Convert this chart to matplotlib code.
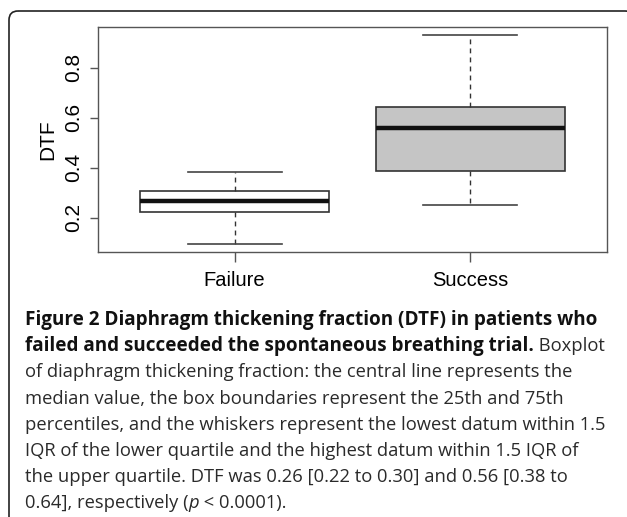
import matplotlib
matplotlib.use('Agg')
import matplotlib.pyplot as plt
from matplotlib.patches import FancyBboxPatch

# Werte
groups = ['Failure', 'Success']
whisker_low = [0.096, 0.249]
q1 = [0.222, 0.388]
median = [0.266, 0.561]
q3 = [0.306, 0.645]
whisker_high = [0.383, 0.930]
box_colors = ['white', '#c5c5c5']
y_ticks = [0.2, 0.4, 0.6, 0.8]

# Bildunterschrift: Zeilen als Segmente (Text, Gewicht, Stil)
caption_lines = [
    [('Figure 2 Diaphragm thickening fraction (DTF) in patients who', 'bold', 'normal')],
    [('failed and succeeded the spontaneous breathing trial.', 'bold', 'normal'),
     (' Boxplot', 'normal', 'normal')],
    [('of diaphragm thickening fraction: the central line represents the', 'normal', 'normal')],
    [('median value, the box boundaries represent the 25th and 75th', 'normal', 'normal')],
    [('percentiles, and the whiskers represent the lowest datum within 1.5', 'normal', 'normal')],
    [('IQR of the lower quartile and the highest datum within 1.5 IQR of', 'normal', 'normal')],
    [('the upper quartile. DTF was 0.26 [0.22 to 0.30] and 0.56 [0.38 to', 'normal', 'normal')],
    [('0.64], respectively (', 'normal', 'normal'), ('p', 'normal', 'italic'),
     (' < 0.0001).', 'normal', 'normal')],
]

W, H = 627, 517
fig = plt.figure(figsize=(W / 100, H / 100), dpi=100)

# Hintergrund-Achse in Pixelkoordinaten (Rahmen + Text)
bg = fig.add_axes([0, 0, 1, 1], zorder=0)
bg.set_xlim(0, W)
bg.set_ylim(H, 0)
bg.axis('off')
frame = FancyBboxPatch((9, 11), 625, 540, boxstyle='round,pad=0,rounding_size=9',
                       fill=False, edgecolor='#222222', linewidth=1.2)
bg.add_patch(frame)

# Boxplot
ax = fig.add_axes([98 / W, 1 - 252 / H, (607 - 98) / W, (252 - 27) / H], zorder=1)
stats = []
for i in range(len(groups)):
    stats.append({'label': groups[i], 'whislo': whisker_low[i], 'q1': q1[i],
                  'med': median[i], 'q3': q3[i], 'whishi': whisker_high[i],
                  'fliers': []})
bp = ax.bxp(stats, positions=[1, 2], widths=0.8, capwidths=0.4, patch_artist=True,
            showfliers=False,
            boxprops=dict(edgecolor='#333333', linewidth=1.2),
            medianprops=dict(color='#111111', linewidth=3.2, solid_capstyle='butt'),
            whiskerprops=dict(color='#333333', linewidth=1.0, linestyle=(0, (3.5, 3))),
            capprops=dict(color='#444444', linewidth=1.2))
for patch, c in zip(bp['boxes'], box_colors):
    patch.set_facecolor(c)

lo, hi = min(whisker_low), max(whisker_high)
pad = 0.04 * (hi - lo)
ax.set_ylim(lo - pad, hi + pad)
ax.set_xlim(0.42, 2.58)
ax.set_yticks(y_ticks)
ax.set_yticklabels([f'{v:.1f}' for v in y_ticks], fontsize=15, family='Liberation Sans',
                   rotation=90, va='center')
ax.set_xticks([1, 2])
ax.set_xticklabels(groups, fontsize=14.5, family='Liberation Sans')
ax.tick_params(axis='y', length=6, width=1, color='#555555', pad=4.5)
ax.tick_params(axis='x', length=7, width=1, color='#555555', pad=7)
ax.set_ylabel('DTF', fontsize=15, family='Liberation Sans', labelpad=5)
for s in ax.spines.values():
    s.set_color('#555555')
    s.set_linewidth(1.0)

# Schriftgröße an die Zeilenbreite anpassen
renderer = fig.canvas.get_renderer()
def fit_size(txt, wt, target):
    probe = bg.text(0, 0, txt, fontsize=10, family='Open Sans', fontweight=wt)
    pw = probe.get_window_extent(renderer).width
    probe.remove()
    return 10 * target / pw

reg_size = fit_size(caption_lines[4][0][0], 'normal', 580)
bold_size = fit_size(caption_lines[0][0][0], 'bold', 573)

x0 = 25
base0 = 325
step = 26.2
for i, segs in enumerate(caption_lines):
    x = x0
    y = base0 + i * step
    for txt, wt, st in segs:
        t = bg.text(x, y, txt, fontsize=bold_size if wt == 'bold' else reg_size,
                    family='Open Sans', fontweight=wt, fontstyle=st,
                    color='#2a2a2a' if wt == 'normal' else '#111111',
                    va='baseline', ha='left')
        x = t.get_window_extent(renderer).x1

fig.savefig('out.png', dpi=100)
